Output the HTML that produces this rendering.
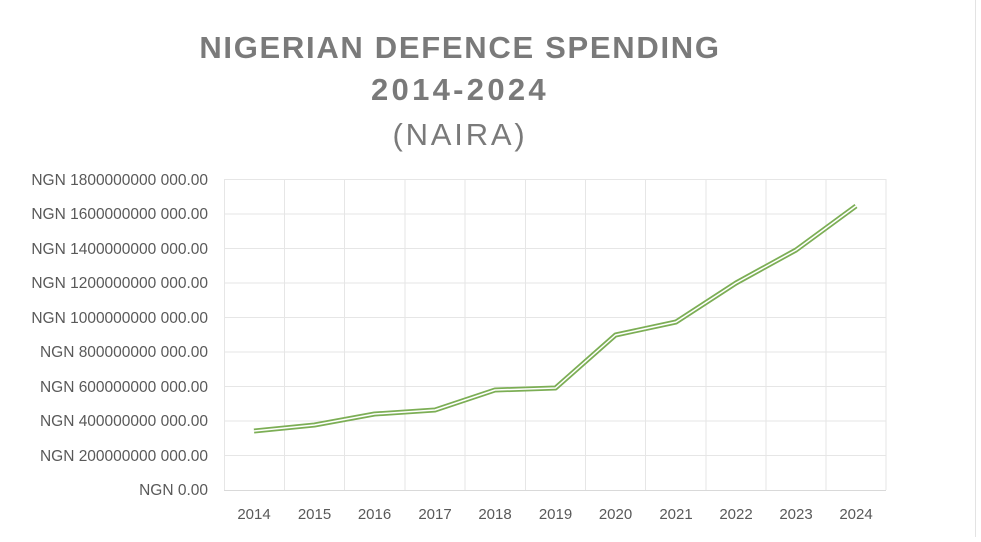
<!DOCTYPE html>
<html><head><style>
body{margin:0;background:#fff;}
svg text{font-family:"Liberation Sans",sans-serif;fill:#595959;}
</style></head><body>
<svg width="981" height="537" viewBox="0 0 981 537" xmlns="http://www.w3.org/2000/svg">
<rect width="981" height="537" fill="#fff"/>
<line x1="975.5" y1="0" x2="975.5" y2="537" stroke="#e3e3e3" stroke-width="1"/>
<text x="460" y="58" text-anchor="middle" font-size="31" font-weight="bold" letter-spacing="1.7" style="fill:#7a7a7a">NIGERIAN DEFENCE SPENDING</text>
<text x="460" y="100" text-anchor="middle" font-size="31" font-weight="bold" letter-spacing="3.3" style="fill:#7a7a7a">2014-2024</text>
<text x="460" y="145" text-anchor="middle" font-size="31" letter-spacing="2.8" style="fill:#7a7a7a">(NAIRA)</text>
<g stroke="#e6e6e6" stroke-width="1">
<line x1="224" y1="179.5" x2="886" y2="179.5"/>
<line x1="224" y1="214" x2="886" y2="214"/>
<line x1="224" y1="248.5" x2="886" y2="248.5"/>
<line x1="224" y1="283" x2="886" y2="283"/>
<line x1="224" y1="317.5" x2="886" y2="317.5"/>
<line x1="224" y1="352" x2="886" y2="352"/>
<line x1="224" y1="386.5" x2="886" y2="386.5"/>
<line x1="224" y1="421" x2="886" y2="421"/>
<line x1="224" y1="455.5" x2="886" y2="455.5"/>
<line x1="224.5" y1="179" x2="224.5" y2="490"/>
<line x1="284.5" y1="179" x2="284.5" y2="490"/>
<line x1="344.5" y1="179" x2="344.5" y2="490"/>
<line x1="405" y1="179" x2="405" y2="490"/>
<line x1="465" y1="179" x2="465" y2="490"/>
<line x1="525.5" y1="179" x2="525.5" y2="490"/>
<line x1="585.5" y1="179" x2="585.5" y2="490"/>
<line x1="645.5" y1="179" x2="645.5" y2="490"/>
<line x1="706" y1="179" x2="706" y2="490"/>
<line x1="766" y1="179" x2="766" y2="490"/>
<line x1="826" y1="179" x2="826" y2="490"/>
<line x1="886" y1="179" x2="886" y2="490"/>
</g>
<line x1="224" y1="490.5" x2="886" y2="490.5" stroke="#d9d9d9" stroke-width="1"/>
<g font-size="15.5" text-anchor="end">
<text x="208" y="185">NGN 1800000000 000.00</text>
<text x="208" y="219">NGN 1600000000 000.00</text>
<text x="208" y="254">NGN 1400000000 000.00</text>
<text x="208" y="288">NGN 1200000000 000.00</text>
<text x="208" y="323">NGN 1000000000 000.00</text>
<text x="208" y="357">NGN 800000000 000.00</text>
<text x="208" y="392">NGN 600000000 000.00</text>
<text x="208" y="426">NGN 400000000 000.00</text>
<text x="208" y="461">NGN 200000000 000.00</text>
<text x="208" y="495">NGN  0.00</text>
</g>
<g font-size="15" text-anchor="middle">
<text x="254" y="519">2014</text><text x="314.5" y="519">2015</text><text x="374.5" y="519">2016</text>
<text x="435" y="519">2017</text><text x="495" y="519">2018</text><text x="555.5" y="519">2019</text>
<text x="615.5" y="519">2020</text><text x="676" y="519">2021</text><text x="736" y="519">2022</text>
<text x="796" y="519">2023</text><text x="856" y="519">2024</text>
</g>
<g fill="none" stroke-linejoin="round">
<polyline points="254,431 314.5,425 374.5,414 435,410 495,390 555.5,388 615.5,335 676,322 736,283 796,250 856,206" stroke="#7cae55" stroke-width="5"/>
<polyline points="254,431 314.5,425 374.5,414 435,410 495,390 555.5,388 615.5,335 676,322 736,283 796,250 856,206" stroke="#fff" stroke-width="1.5"/>
</g>
</svg>
</body></html>
